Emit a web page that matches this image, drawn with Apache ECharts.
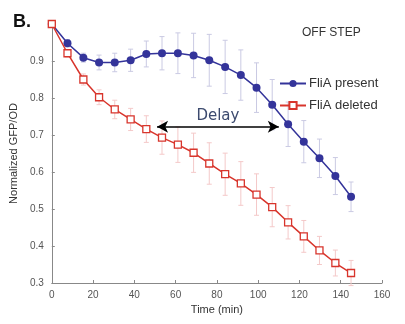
<!DOCTYPE html>
<html>
<head>
<meta charset="utf-8">
<script src="https://cdn.jsdelivr.net/npm/echarts@6/dist/echarts.min.js"></script>
<style>
  html, body { margin: 0; padding: 0; background: #fff; }
  #chart { width: 405px; height: 324px; }
</style>
</head>
<body>
<div id="chart"></div>
<script>
// 資料
const timeMin = [0, 7.6, 15.3, 22.9, 30.5, 38.2, 45.8, 53.4, 61.1, 68.7, 76.3, 84, 91.6, 99.2, 106.8, 114.5, 122.1, 129.7, 137.4, 145];
const fliaPresent = [1.0, 0.948, 0.909, 0.896, 0.896, 0.902, 0.919, 0.921, 0.921, 0.915, 0.902, 0.884, 0.862, 0.828, 0.782, 0.729, 0.682, 0.637, 0.589, 0.533];
const fliaPresentErr = [0, 0.01, 0.012, 0.02, 0.025, 0.03, 0.035, 0.045, 0.055, 0.06, 0.07, 0.072, 0.068, 0.067, 0.068, 0.06, 0.057, 0.052, 0.05, 0.04];
const fliaDeleted = [1.0, 0.921, 0.85, 0.802, 0.769, 0.742, 0.716, 0.693, 0.674, 0.652, 0.623, 0.594, 0.569, 0.539, 0.505, 0.464, 0.426, 0.388, 0.354, 0.327];
const fliaDeletedErr = [0, 0.01, 0.015, 0.02, 0.025, 0.03, 0.036, 0.045, 0.048, 0.053, 0.056, 0.057, 0.059, 0.056, 0.053, 0.045, 0.043, 0.038, 0.035, 0.034];
const xTicks = [0, 160, 20];
const yTicks = [0.3, 1.0, 0.1];
const delayArrow = [[51, 0.722], [110, 0.722]];

const blue = '#34349a';
const red = '#d8352c';

const chart = echarts.init(document.getElementById('chart'));

// 誤差線
const errorBars = (ys, errs, color) => ({
  type: 'custom',
  silent: true,
  z: 1,
  data: timeMin.map((t, i) => [t, ys[i], errs[i]]),
  renderItem: (params, api) => {
    const x = api.value(0), y = api.value(1), e = api.value(2);
    if (!e) return null;
    const lo = api.coord([x, y - e]);
    const hi = api.coord([x, y + e]);
    const w = 2.5;
    const style = { stroke: color, lineWidth: 1 };
    return {
      type: 'group',
      children: [
        { type: 'line', shape: { x1: lo[0], y1: lo[1], x2: hi[0], y2: hi[1] }, style },
        { type: 'line', shape: { x1: lo[0] - w, y1: lo[1], x2: lo[0] + w, y2: lo[1] }, style },
        { type: 'line', shape: { x1: hi[0] - w, y1: hi[1], x2: hi[0] + w, y2: hi[1] }, style },
      ],
    };
  },
});

const font = 'Liberation Sans, Arial, sans-serif';
const axisText = { color: '#555', fontSize: 10, fontFamily: font };

chart.setOption({
  animation: false,
  grid: { left: 49, right: 23, top: 24, bottom: 41 },
  legend: {
    orient: 'vertical',
    left: 274,
    top: 72,
    itemWidth: 26,
    itemHeight: 9,
    itemGap: 9,
    data: ['FliA present', 'FliA deleted'],
    textStyle: { color: '#333', fontSize: 13, fontFamily: font, padding: [0, 0, 0, -2] },
  },
  xAxis: {
    type: 'value',
    min: xTicks[0],
    max: xTicks[1],
    interval: xTicks[2],
    name: 'Time (min)',
    nameLocation: 'middle',
    nameGap: 21,
    nameTextStyle: { color: '#333', fontSize: 11, fontFamily: font },
    axisLine: { lineStyle: { color: '#888' } },
    axisTick: { inside: true, length: 3, lineStyle: { color: '#888' } },
    axisLabel: { ...axisText, margin: 7 },
    splitLine: { show: false },
  },
  yAxis: {
    type: 'value',
    min: yTicks[0],
    max: yTicks[1],
    interval: yTicks[2],
    name: 'Normalized GFP/OD',
    nameLocation: 'middle',
    nameGap: 28,
    nameTextStyle: { color: '#333', fontSize: 11, fontFamily: font },
    axisLine: { show: true, lineStyle: { color: '#888' } },
    axisTick: { show: true, inside: true, length: 3, lineStyle: { color: '#888' } },
    axisLabel: { ...axisText, margin: 8, formatter: v => (v > 0.95 ? '' : v.toFixed(1)) },
    splitLine: { show: false },
  },
  graphic: [
    { type: 'text', left: 13, top: 13, style: { text: 'B.', font: 'bold 18px Liberation Sans, Arial, sans-serif', fill: '#111' } },
    { type: 'text', left: 302, top: 27, style: { text: 'OFF STEP', font: '12px Liberation Sans, Arial, sans-serif', fill: '#333' } },
  ],
  series: [
    errorBars(fliaPresent, fliaPresentErr, '#cacae3'),
    errorBars(fliaDeleted, fliaDeletedErr, '#f4c9c9'),
    {
      name: 'FliA present',
      type: 'line',
      z: 3,
      data: timeMin.map((t, i) => [t, fliaPresent[i]]),
      symbol: 'circle',
      symbolSize: 8,
      itemStyle: { color: blue },
      lineStyle: { color: blue, width: 1.5 },
    },
    {
      name: 'FliA deleted',
      type: 'line',
      z: 4,
      data: timeMin.map((t, i) => [t, fliaDeleted[i]]),
      symbol: 'rect',
      symbolSize: 7,
      itemStyle: { color: '#fff', borderColor: red, borderWidth: 1.3 },
      lineStyle: { color: red, width: 1.5 },
      markLine: {
        silent: true,
        symbol: ['arrow', 'arrow'],
        symbolSize: [9, 11],
        lineStyle: { color: '#000', width: 1.5, type: 'solid' },
        label: {
          show: true,
          position: 'insideMiddleTop',
          formatter: 'Delay',
          distance: 3,
          color: '#3c4a6e',
          fontSize: 15,
          fontFamily: 'DejaVu Sans, Verdana, sans-serif',
        },
        data: [[{ coord: delayArrow[0] }, { coord: delayArrow[1] }]],
      },
    },
  ],
});
</script>
</body>
</html>
